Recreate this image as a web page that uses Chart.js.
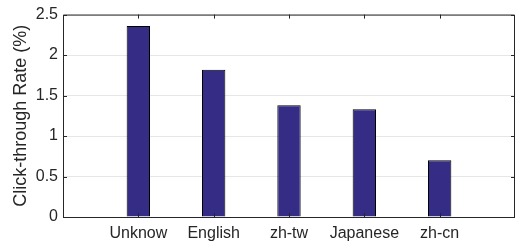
<!DOCTYPE html>
<html lang="en">
<head>
    <meta charset="UTF-8">
    <title>Click-through Rate</title>
    <style>
        body {
            margin: 0;
            background: #ffffff;
        }

        .chart-box {
            width: 516px;
            height: 243px;
        }
    </style>
    <script src="https://cdn.jsdelivr.net/npm/chart.js"></script>
</head>
<body>
    <div class="chart-box">
        <canvas id="ctrChart"></canvas>
    </div>

    <script>
        // Values
        const languages = ['Unknow', 'English', 'zh-tw', 'Japanese', 'zh-cn'];
        const ctrValues = [2.36, 1.82, 1.38, 1.33, 0.70];
        const yTicks = [0, 0.5, 1, 1.5, 2, 2.5];

        const frameColor = '#262626';

        // MATLAB style box with inward tick marks
        const boxFrame = {
            id: 'boxFrame',
            afterDraw(chart) {
                const ctx = chart.ctx;
                const area = chart.chartArea;
                const x = chart.scales.x;
                const y = chart.scales.y;
                ctx.save();
                ctx.strokeStyle = frameColor;
                ctx.lineWidth = 1;
                ctx.beginPath();
                ctx.rect(area.left + 0.5, area.top + 0.5, area.right - area.left - 1, area.bottom - area.top);
                ctx.stroke();
                ctx.beginPath();
                languages.forEach((name, i) => {
                    const px = Math.round(x.getPixelForValue(i + 1)) + 0.5;
                    ctx.moveTo(px, area.top);
                    ctx.lineTo(px, area.top + 4);
                    ctx.moveTo(px, area.bottom);
                    ctx.lineTo(px, area.bottom - 4);
                });
                yTicks.forEach(v => {
                    const py = Math.round(y.getPixelForValue(v)) + 0.5;
                    ctx.moveTo(area.left, py);
                    ctx.lineTo(area.left + 4, py);
                    ctx.moveTo(area.right, py);
                    ctx.lineTo(area.right - 4, py);
                });
                ctx.stroke();
                ctx.restore();
            }
        };

        new Chart(document.getElementById('ctrChart'), {
            type: 'bar',
            data: {
                datasets: [{
                    data: ctrValues.map((v, i) => ({ x: i + 1, y: v })),
                    backgroundColor: '#352c85',
                    borderColor: '#000000',
                    borderWidth: 1,
                    barPercentage: 0.31,
                    categoryPercentage: 1
                }]
            },
            options: {
                responsive: true,
                maintainAspectRatio: false,
                animation: false,
                layout: {
                    padding: { top: 9, right: 1, left: 0, bottom: 0 }
                },
                plugins: {
                    legend: { display: false },
                    tooltip: { enabled: false }
                },
                scales: {
                    x: {
                        type: 'linear',
                        offset: false,
                        min: 0,
                        max: 6,
                        afterBuildTicks: scale => {
                            scale.ticks = languages.map((name, i) => ({ value: i + 1 }));
                        },
                        afterFit: scale => {
                            scale.height = 26;
                        },
                        grid: { display: false, drawTicks: false },
                        border: { display: false },
                        ticks: {
                            autoSkip: false,
                            maxRotation: 0,
                            padding: 7,
                            color: '#262626',
                            font: { family: 'Liberation Sans', size: 16 },
                            callback: v => languages[v - 1]
                        }
                    },
                    y: {
                        min: 0,
                        max: 2.5,
                        afterBuildTicks: scale => {
                            scale.ticks = yTicks.map(v => ({ value: v }));
                        },
                        afterFit: scale => {
                            scale.width = 63;
                        },
                        grid: { color: '#e6e6e6', drawTicks: false },
                        border: { display: false },
                        ticks: {
                            padding: 5,
                            color: '#262626',
                            font: { family: 'Liberation Sans', size: 16 },
                            callback: v => String(v)
                        },
                        title: {
                            display: true,
                            text: 'Click-through Rate (%)',
                            color: '#262626',
                            font: { family: 'Liberation Sans', size: 18 },
                            padding: { top: 10, bottom: 0 }
                        }
                    }
                }
            },
            plugins: [boxFrame]
        });
    </script>
</body>
</html>
